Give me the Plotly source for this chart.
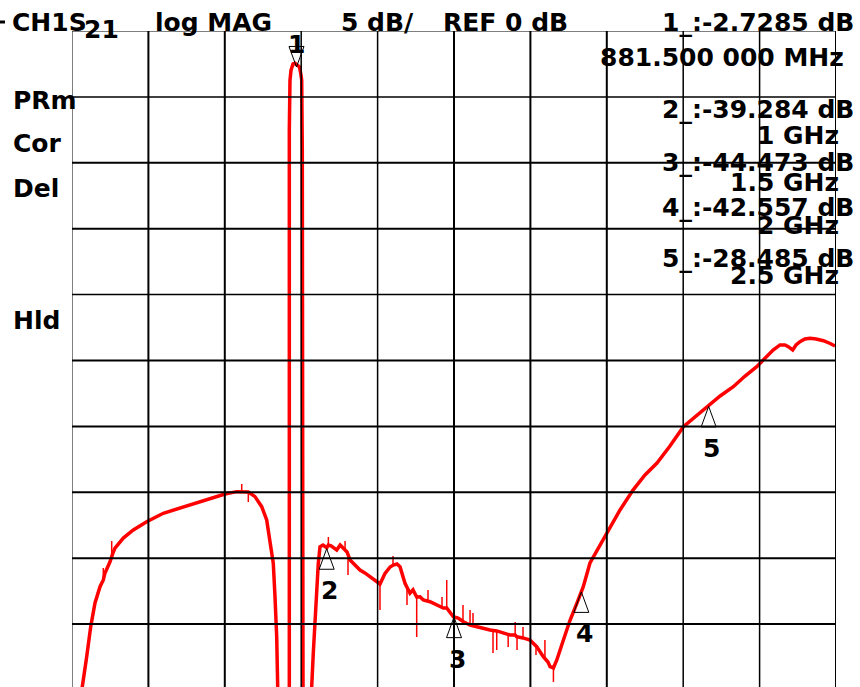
import plotly.graph_objects as go

# ---------------- data ----------------
freq_ghz = [
    0.030, 0.0404, 0.0577, 0.0734, 0.0903, 0.110, 0.1229, 0.1296, 0.1492, 0.1559, 0.161,
    0.1688, 0.2014, 0.2407, 0.2933, 0.3585, 0.4241, 0.4897, 0.5548, 0.6008, 0.6467, 0.6664,
    0.686, 0.6923, 0.7186, 0.7449, 0.7645, 0.7775, 0.7904, 0.7971, 0.8038, 0.8077, 0.815,
    0.830, 0.848, 0.8533, 0.8533, 0.856, 0.8601, 0.8679, 0.8757, 0.8835, 0.8933, 0.8992,
    0.902, 0.9043, 0.9059, 0.9071, 0.915, 0.928, 0.937, 0.9412, 0.9475, 0.9542, 0.9608,
    0.9671, 0.9738, 0.9856, 1.0004, 1.0067, 1.017, 1.0395, 1.053, 1.0723, 1.080, 1.0918,
    1.111, 1.1309, 1.150, 1.1702, 1.190, 1.2027, 1.2094, 1.217, 1.2291, 1.249, 1.2617,
    1.276, 1.288, 1.3076, 1.3272, 1.339, 1.3535, 1.3665, 1.3794, 1.4058, 1.4188,
    1.445, 1.4581, 1.4714, 1.4974, 1.5162, 1.537, 1.563, 1.5892, 1.614, 1.6415,
    1.6678, 1.6808, 1.6938, 1.7127, 1.7199, 1.7402, 1.7462, 1.771, 1.7984, 1.8247, 1.8506,
    1.869, 1.8774, 1.8904, 1.9037, 1.9296, 1.956, 1.9823, 1.9992, 2.0077, 2.034, 2.0993,
    2.152, 2.2029, 2.250, 2.2971, 2.348, 2.4008, 2.450, 2.4994, 2.545, 2.5968, 2.643,
    2.6888, 2.728, 2.753, 2.7801, 2.7997, 2.8127, 2.830, 2.843, 2.8586, 2.878, 2.8979,
    2.922, 2.9507, 2.977, 2.9961,
]
s21_db = [
    -53.0, -49.75, -47.47, -45.20, -43.40, -42.16, -41.65, -41.12, -40.27, -39.83, -39.6,
    -39.23, -38.47, -37.86, -37.23, -36.59, -36.21, -35.83, -35.45, -35.13, -34.95, -34.98,
    -34.95, -34.98, -35.33, -36.09, -37.10, -38.62, -40.39, -42.92, -45.96, -49.75, -58.0,
    -65.0, -56.0, -49.77, -7.51, -3.72, -2.96, -2.50, -2.45, -2.55, -2.73, -3.34,
    -3.72, -9.03, -28.0, -49.77, -58.0, -62.0, -54.0, -49.75, -47.19, -44.69, -42.16,
    -40.39, -39.13, -39.0, -39.2, -39.0, -39.07, -39.38, -39.0, -39.38, -39.53, -40.14,
    -40.52, -40.90, -41.12, -41.40, -41.65, -41.90, -41.96, -41.65, -41.15, -40.67, -40.52,
    -40.44, -40.65, -41.90, -42.66, -42.40, -42.94, -42.92, -43.17, -43.30, -43.42,
    -43.70, -43.78, -43.78, -44.44, -44.54, -44.82, -45.07, -45.20, -45.30, -45.45,
    -45.52, -45.60, -45.70, -45.75, -45.83, -45.83, -45.96, -46.05, -46.21, -46.71, -47.47,
    -47.88, -48.23, -48.33, -47.72, -46.21, -44.69, -43.42, -42.64, -42.16, -40.36, -38.11,
    -36.34, -34.83, -33.69, -32.78, -31.49, -30.02, -29.21, -28.45, -27.69, -26.99, -26.18,
    -25.47, -24.71, -24.20, -23.82, -23.82, -23.95, -24.20, -23.82, -23.57, -23.37, -23.32,
    -23.37, -23.50, -23.71, -23.90,
]

# thin noise spikes riding on the trace: frequency, trace value, tip value
spike_freq_ghz = [0.1229, 0.1559, 0.6664, 0.6923, 1.0067, 1.0723, 1.0838, 1.2094, 1.2605,
                  1.3154, 1.3535, 1.3979, 1.4529, 1.4714, 1.5353, 1.563, 1.5746, 1.6532,
                  1.6678, 1.7127, 1.7402, 1.7475, 1.771, 1.822, 1.857, 1.8904]
spike_base_db = [-41.65, -39.83, -34.98, -34.98, -39.0, -39.38, -39.6, -41.96, -40.52,
                 -42.1, -42.94, -43.35, -43.75, -43.78, -44.7, -45.07, -45.15, -45.48,
                 -45.52, -45.75, -45.83, -45.9, -46.05, -46.6, -47.6, -48.33]
spike_tip_db = [-40.74, -38.70, -34.37, -35.74, -38.39, -38.69, -41.27, -43.93, -39.83,
                -43.55, -45.98, -42.41, -42.94, -41.65, -43.55, -43.93, -44.16, -47.19,
                -46.97, -46.74, -44.84, -46.97, -45.22, -47.34, -46.2, -49.39]

marker_ids = ["1", "2", "3", "4", "5"]
marker_freq_ghz = [0.8815, 1.0, 1.5, 2.0, 2.5]
marker_db = [-2.7285, -39.284, -44.473, -42.557, -28.485]
marker_db_text = ["-2.7285", "-39.284", "-44.473", "-42.557", "-28.485"]
marker_freq_text = ["881.500 000 MHz", "1 GHz", "1.5 GHz", "2 GHz", "2.5 GHz"]

header_texts = ["log MAG", "5 dB/", "REF 0 dB"]
side_labels = ["PRm", "Cor", "Del", "Hld"]

start_ghz, stop_ghz, x_divs = 0.0, 3.0, 10
ref_db, db_per_div = 0.0, 5.0

# ---------------- layout helpers ----------------
W, H = 860, 687
ML, MR, MT, MB = 72, 24, 31, 0
PW, PH = W - ML - MR, H - MT - MB
px_per_div_y = 65.9
y_bottom = ref_db - db_per_div * PH / px_per_div_y


def pxx(x):
    return (x - ML) / PW


def pyy(y):
    return (H - MB - y) / PH


FONT = "DejaVu Sans"
FS = 25
RED = "#ff0000"

fig = go.Figure()

fig.add_trace(go.Scatter(
    x=freq_ghz, y=s21_db, mode="lines",
    line=dict(color=RED, width=3.5), hoverinfo="skip", showlegend=False,
))

sx, sy = [], []
for f, b, tip in zip(spike_freq_ghz, spike_base_db, spike_tip_db):
    sx += [f, f, None]
    sy += [b, tip, None]
fig.add_trace(go.Scatter(x=sx, y=sy, mode="lines", line=dict(color=RED, width=1.5),
                         hoverinfo="skip", showlegend=False))

# marker triangles (outline)
half_w = (stop_ghz - start_ghz) / PW * 7.5
tri_h = db_per_div / px_per_div_y * 20.5
tx, ty = [], []
for i, (f, v) in enumerate(zip(marker_freq_ghz, marker_db)):
    base = v + tri_h if i == 0 else v - tri_h
    tx += [f, f - half_w, f + half_w, f, None]
    ty += [v, base, base, v, None]
fig.add_trace(go.Scatter(x=tx, y=ty, mode="lines", line=dict(color="black", width=1),
                         hoverinfo="skip", showlegend=False))

shapes = []
thin_v = {0: 1, 3: 1.5, 4: 1.5, 8: 1.5, 9: 1.5}
for k in range(x_divs + 1):
    f = start_ghz + k * (stop_ghz - start_ghz) / x_divs
    shapes.append(dict(type="line", xref="x", yref="paper", x0=f, x1=f, y0=0, y1=1,
                       line=dict(color="black", width=thin_v.get(k, 2)), layer="above"))
thin_h = {0: 1, 1: 1.5, 4: 1.5}
for k in range(10):
    v = ref_db - k * db_per_div
    shapes.append(dict(type="line", xref="paper", yref="y", x0=0, x1=1, y0=v, y1=v,
                       line=dict(color="black", width=thin_h.get(k, 2)), layer="above"))
shapes.append(dict(type="line", xref="paper", yref="paper", x0=pxx(0), x1=pxx(5),
                   y0=pyy(22), y1=pyy(22), line=dict(color="black", width=3)))

ann = []


def txt(s, x, y, anchor="left", size=FS):
    ann.append(dict(text=s, x=pxx(x), y=pyy(y), xref="paper", yref="paper",
                    xanchor=anchor, yanchor="middle", showarrow=False,
                    font=dict(family=FONT, size=size, color="black"), borderpad=0))


txt("<b>CH1S</b>", 11, 23)
txt("<b>21</b>", 83, 29)
for s, x in zip(header_texts, [154, 340, 442]):
    txt("<b>%s</b>" % s, x, 23)

for s, y in zip(side_labels, [100, 143, 188, 320]):
    txt("<b>%s</b>" % s, 12, y)

readout_y = [23, 109, 162, 208, 258]
freq_y = [58, 135, 182, 225, 275]
for i in range(len(marker_ids)):
    txt("<b>%s_:%s dB</b>" % (marker_ids[i], marker_db_text[i]), 855, readout_y[i], "right")
    txt("<b>%s</b>" % marker_freq_text[i], 845 if i == 0 else 840, freq_y[i], "right")

for i, (m, f, v) in enumerate(zip(marker_ids, marker_freq_ghz, marker_db)):
    ann.append(dict(text="<b>%s</b>" % m, x=f, y=v, xref="x", yref="y",
                    xanchor="center", yanchor="middle", showarrow=False,
                    xshift=3 if i else 0, yshift=22 if i == 0 else -42,
                    font=dict(family=FONT, size=FS, color="black")))

fig.update_layout(
    width=W, height=H,
    margin=dict(l=ML, r=MR, t=MT, b=MB, pad=0),
    paper_bgcolor="white", plot_bgcolor="white",
    xaxis=dict(range=[start_ghz, stop_ghz], visible=False, showgrid=False, zeroline=False),
    yaxis=dict(range=[y_bottom, ref_db], visible=False, showgrid=False, zeroline=False),
    shapes=shapes, annotations=ann, showlegend=False,
)

fig.write_html("out.html", config={"displayModeBar": False},
               post_script="document.body.style.margin='0px';")
